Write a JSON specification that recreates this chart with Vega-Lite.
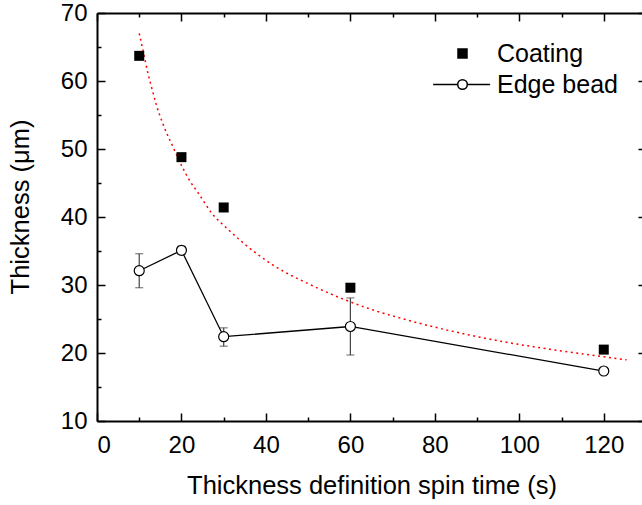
{
  "$schema": "https://vega.github.io/schema/vega-lite/v6.json",
  "width": 549,
  "height": 408,
  "autosize": "none",
  "padding": {"left": 97, "top": 13, "right": 0, "bottom": 84},
  "background": "white",
  "config": {
    "view": {"stroke": null},
    "font": "Liberation Sans",
    "axis": {
      "grid": false,
      "domainColor": "black",
      "domainWidth": 2,
      "tickColor": "black",
      "tickWidth": 1.5,
      "labelFont": "Liberation Sans",
      "labelFontSize": 24,
      "labelColor": "black",
      "titleFont": "Liberation Sans",
      "titleFontSize": 25.5,
      "titleFontWeight": "normal",
      "titleColor": "black"
    },
    "legend": {
      "labelFont": "Liberation Sans",
      "labelFontSize": 25,
      "labelColor": "black"
    }
  },
  "datasets": {
    "coating": [
      {"t": 10, "v": 63.7, "series": "Coating"},
      {"t": 20, "v": 48.8, "series": "Coating"},
      {"t": 30, "v": 41.4, "series": "Coating"},
      {"t": 60, "v": 29.6, "series": "Coating"},
      {"t": 120, "v": 20.5, "series": "Coating"}
    ],
    "edge": [
      {"t": 10, "v": 32.1, "lo": 29.6, "hi": 34.6, "series": "Edge bead"},
      {"t": 20, "v": 35.1, "lo": 34.5, "hi": 35.7, "series": "Edge bead"},
      {"t": 30, "v": 22.4, "lo": 21.0, "hi": 23.7, "series": "Edge bead"},
      {"t": 60, "v": 23.9, "lo": 19.7, "hi": 28.1, "series": "Edge bead"},
      {"t": 120, "v": 17.35, "lo": 17.0, "hi": 17.7, "series": "Edge bead"}
    ],
    "fit": [
      {"t": 10, "v": 67.0},
      {"t": 11, "v": 64.2},
      {"t": 12, "v": 61.3},
      {"t": 13, "v": 58.9},
      {"t": 14, "v": 56.6},
      {"t": 16, "v": 53.1},
      {"t": 18, "v": 50.3},
      {"t": 20, "v": 47.6},
      {"t": 22, "v": 45.3},
      {"t": 24, "v": 43.5},
      {"t": 27, "v": 40.7},
      {"t": 31, "v": 38.2},
      {"t": 35, "v": 36.0},
      {"t": 42, "v": 32.8},
      {"t": 50, "v": 30.2},
      {"t": 58, "v": 28.0},
      {"t": 65, "v": 26.4},
      {"t": 72, "v": 25.1},
      {"t": 80, "v": 23.8},
      {"t": 95, "v": 21.8},
      {"t": 110, "v": 20.3},
      {"t": 125.4, "v": 19.0}
    ],
    "legend": [
      {"series": "Coating"},
      {"series": "Edge bead"}
    ]
  },
  "resolve": {"axis": {"x": "independent", "y": "independent"}},
  "layer": [
    {
      "data": {"name": "fit"},
      "mark": {"type": "line", "color": "#ff0000", "strokeWidth": 1.5, "strokeDash": [2, 3.5], "interpolate": "monotone"},
      "encoding": {
        "x": {
          "field": "t", "type": "quantitative",
          "scale": {"domain": [0, 130], "nice": false, "zero": false},
          "axis": {
            "orient": "bottom",
            "title": "Thickness definition spin time (s)",
            "values": [0, 20, 40, 60, 80, 100, 120],
            "tickSize": -8,
            "labelPadding": 20,
            "titlePadding": 16
          }
        },
        "y": {
          "field": "v", "type": "quantitative",
          "scale": {"domain": [10, 70], "nice": false, "zero": false},
          "axis": {
            "orient": "left",
            "title": "Thickness (μm)",
            "values": [10, 20, 30, 40, 50, 60, 70],
            "tickSize": -8,
            "labelPadding": 18,
            "titlePadding": 27,
            "titleY": 193.5
          }
        }
      }
    },
    {
      "data": {"name": "edge"},
      "mark": {"type": "rule", "color": "#444444", "strokeWidth": 1.2},
      "encoding": {
        "x": {
          "field": "t", "type": "quantitative",
          "axis": {
            "orient": "top",
            "title": null,
            "labels": false,
            "values": [0, 20, 40, 60, 80, 100, 120],
            "tickSize": -8
          }
        },
        "y": {
          "field": "lo", "type": "quantitative",
          "axis": {
            "orient": "right",
            "title": null,
            "labels": false,
            "values": [10, 20, 30, 40, 50, 60, 70],
            "tickSize": -8
          }
        },
        "y2": {"field": "hi"}
      }
    },
    {
      "data": {"name": "edge"},
      "mark": {"type": "tick", "orient": "horizontal", "color": "#444444", "size": 8, "thickness": 1.2},
      "encoding": {
        "x": {
          "field": "t", "type": "quantitative",
          "axis": {
            "orient": "bottom",
            "title": null,
            "labels": false,
            "domain": false,
            "values": [10, 30, 50, 70, 90, 110],
            "tickSize": -4
          }
        },
        "y": {
          "field": "lo", "type": "quantitative",
          "axis": {
            "orient": "left",
            "title": null,
            "labels": false,
            "domain": false,
            "values": [15, 25, 35, 45, 55, 65],
            "tickSize": -4
          }
        }
      }
    },
    {
      "data": {"name": "edge"},
      "mark": {"type": "tick", "orient": "horizontal", "color": "#444444", "size": 8, "thickness": 1.2},
      "encoding": {
        "x": {
          "field": "t", "type": "quantitative",
          "axis": {
            "orient": "top",
            "title": null,
            "labels": false,
            "domain": false,
            "values": [10, 30, 50, 70, 90, 110],
            "tickSize": -4
          }
        },
        "y": {
          "field": "hi", "type": "quantitative",
          "axis": {
            "orient": "right",
            "title": null,
            "labels": false,
            "domain": false,
            "values": [15, 25, 35, 45, 55, 65],
            "tickSize": -4
          }
        }
      }
    },
    {
      "data": {"name": "edge"},
      "mark": {"type": "line", "color": "black", "strokeWidth": 1.3},
      "encoding": {
        "x": {"field": "t", "type": "quantitative", "axis": null},
        "y": {"field": "v", "type": "quantitative", "axis": null}
      }
    },
    {
      "data": {"name": "edge"},
      "mark": {"type": "point", "shape": "circle", "filled": true, "fill": "white", "stroke": "black", "strokeWidth": 1.2, "size": 100, "opacity": 1},
      "encoding": {
        "x": {"field": "t", "type": "quantitative", "axis": null},
        "y": {"field": "v", "type": "quantitative", "axis": null}
      }
    },
    {
      "data": {"name": "coating"},
      "mark": {"type": "point", "shape": "square", "filled": true, "fill": "black", "stroke": null, "size": 100, "opacity": 1},
      "encoding": {
        "x": {"field": "t", "type": "quantitative", "axis": null},
        "y": {"field": "v", "type": "quantitative", "axis": null}
      }
    },
    {
      "data": {"name": "legend"},
      "mark": {"type": "point", "filled": true, "fill": "white", "stroke": "black", "strokeWidth": 1.2, "opacity": 0},
      "encoding": {
        "shape": {
          "field": "series", "type": "nominal",
          "scale": {
            "domain": ["Coating", "Edge bead"],
            "range": [
              "M-0.75,-0.75L0.75,-0.75L0.75,0.75L-0.75,0.75Z M-0.58,-0.58L0.58,-0.58L0.58,0.58L-0.58,0.58Z M-0.42,-0.42L0.42,-0.42L0.42,0.42L-0.42,0.42Z M-0.25,-0.25L0.25,-0.25L0.25,0.25L-0.25,0.25Z M-0.08,-0.08L0.08,-0.08L0.08,0.08L-0.08,0.08Z",
              "M-4.9,0L-0.8,0M0.8,0L4.6,0M-0.8,0A0.8,0.8,0,1,1,0.8,0A0.8,0.8,0,1,1,-0.8,0Z"
            ]
          },
          "legend": {
            "title": null,
            "orient": "none",
            "legendX": 353,
            "legendY": 28,
            "symbolSize": 144,
            "labelOffset": 22,
            "rowPadding": 5,
            "labelLimit": 300,
            "encode": {
              "symbols": {
                "update": {
                  "opacity": {"value": 1},
                  "fillOpacity": {"value": 1},
                  "strokeOpacity": {"value": 1},
                  "stroke": {"value": "black"},
                  "strokeWidth": {"value": 1.2}
                }
              }
            }
          }
        }
      }
    }
  ]
}
